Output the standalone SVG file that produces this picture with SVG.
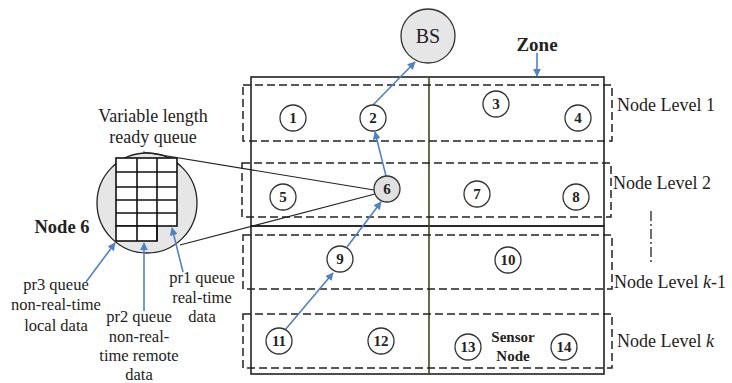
<svg xmlns="http://www.w3.org/2000/svg" width="732" height="383" viewBox="0 0 732 383">
<defs>
<marker id="ah" viewBox="0 0 10 10" refX="9" refY="5" markerWidth="8" markerHeight="8" markerUnits="userSpaceOnUse" orient="auto"><path d="M0,0 L10,5 L0,10 z" fill="#4f81c7"/></marker>
<style>
text{font-family:"Liberation Serif","Times New Roman",serif;fill:#222}
.nd circle{fill:#fff;stroke:#333;stroke-width:1.3}
.nd text{font-size:15px;font-weight:bold;text-anchor:middle}
.lvl{fill:none;stroke:#222;stroke-width:1.5;stroke-dasharray:8 4}
.frame{fill:none;stroke:#222;stroke-width:1.6}
.blue{stroke:#4f81c7;stroke-width:1.6;fill:none;marker-end:url(#ah)}
.lbl{font-size:16.5px;text-anchor:middle}
.lev{font-size:18px}
.thin{stroke:#222;stroke-width:1.2;fill:none}
</style>
</defs>
<rect width="732" height="383" fill="#fff"/>
<g id="frames">
<rect class="frame" x="251" y="77" width="353" height="149"/>
<rect class="frame" x="251" y="226" width="353" height="148"/>
<line x1="429" y1="77" x2="429" y2="374" stroke="#444422" stroke-width="1.6"/>
</g>
<g id="levels">
<rect class="lvl" x="243" y="85" width="369" height="56"/>
<rect class="lvl" x="242" y="163" width="369" height="54"/>
<rect class="lvl" x="243" y="235" width="369" height="54"/>
<rect class="lvl" x="243" y="314" width="369" height="54"/>
<text class="lev" x="617" y="111">Node Level 1</text>
<text class="lev" x="613" y="189">Node Level 2</text>
<text class="lev" x="614" y="288">Node Level <tspan font-style="italic">k</tspan>-1</text>
<text class="lev" x="617" y="347">Node Level <tspan font-style="italic">k</tspan></text>
<line x1="651" y1="211" x2="651" y2="265" stroke="#222" stroke-width="1.3" stroke-dasharray="10 3 2 3"/>
</g>
<g id="magnifier">
<circle cx="147" cy="203" r="50" fill="#e6e6e6" stroke="#222" stroke-width="1.3"/>
<g stroke="#111" stroke-width="1.6" fill="#fff">
<rect x="116" y="158" width="61" height="68"/>
<rect x="116" y="226" width="41" height="15"/>
</g>
<g stroke="#111" stroke-width="1.6">
<line x1="137" y1="158" x2="137" y2="241"/>
<line x1="157" y1="158" x2="157" y2="241"/>
<line x1="116" y1="172" x2="177" y2="172"/>
<line x1="116" y1="187" x2="177" y2="187"/>
<line x1="116" y1="200" x2="177" y2="200"/>
<line x1="116" y1="213" x2="177" y2="213"/>
</g>
<text x="153" y="122" font-size="18" text-anchor="middle">Variable length</text>
<text x="153" y="143" font-size="18" text-anchor="middle">ready queue</text>
<text x="62" y="233" font-size="18.5" font-weight="bold" text-anchor="middle">Node 6</text>
</g>
<g id="labels">
<text class="lbl" x="56" y="290">pr3 queue</text>
<text class="lbl" x="56" y="310">non-real-time</text>
<text class="lbl" x="56" y="331">local data</text>
<text class="lbl" x="139" y="322">pr2 queue</text>
<text class="lbl" x="139" y="342">non-real-</text>
<text class="lbl" x="139" y="361">time remote</text>
<text class="lbl" x="139" y="380">data</text>
<text class="lbl" x="202" y="283">pr1 queue</text>
<text class="lbl" x="202" y="303">real-time</text>
<text class="lbl" x="202" y="322">data</text>
<text x="537" y="51" font-size="19" font-weight="bold" text-anchor="middle">Zone</text>
</g>
<g id="connectors">
<line class="thin" x1="143" y1="152" x2="374" y2="190"/>
<line class="thin" x1="180" y1="245" x2="375" y2="194"/>
<line class="blue" x1="86" y1="282" x2="115" y2="243"/>
<line class="blue" x1="144" y1="311" x2="144" y2="243"/>
<line class="blue" x1="183" y1="272" x2="172" y2="228"/>
<line class="blue" x1="537" y1="53" x2="537" y2="76"/>
<line class="blue" x1="373" y1="105" x2="415" y2="62"/>
<line class="blue" x1="386" y1="176" x2="375" y2="132"/>
<line class="blue" x1="285" y1="330" x2="333" y2="273"/>
<line class="blue" x1="347" y1="247" x2="381" y2="202"/>
</g>
<g id="BS" class="nd"><circle cx="428" cy="36" r="27" style="fill:#e6e6e6"/><text x="428" y="43" style="font-size:20px;font-weight:normal">BS</text></g>
<g id="n1" class="nd"><circle cx="293" cy="118" r="13"/><text x="293" y="123">1</text></g>
<g id="n2" class="nd"><circle cx="373" cy="118" r="13"/><text x="373" y="123">2</text></g>
<g id="n3" class="nd"><circle cx="496" cy="104" r="13"/><text x="496" y="109">3</text></g>
<g id="n4" class="nd"><circle cx="578" cy="118" r="13"/><text x="578" y="123">4</text></g>
<g id="n5" class="nd"><circle cx="283" cy="197" r="13"/><text x="283" y="202">5</text></g>
<g id="n6" class="nd"><circle cx="387" cy="189" r="13" style="fill:#e0e0e0"/><text x="387" y="194">6</text></g>
<g id="n7" class="nd"><circle cx="477" cy="194" r="13"/><text x="477" y="199">7</text></g>
<g id="n8" class="nd"><circle cx="576" cy="197" r="13"/><text x="576" y="202">8</text></g>
<g id="n9" class="nd"><circle cx="340" cy="259" r="13"/><text x="340" y="264">9</text></g>
<g id="n10" class="nd"><circle cx="508" cy="260" r="13"/><text x="508" y="265">10</text></g>
<g id="n11" class="nd"><circle cx="279" cy="341" r="13"/><text x="279" y="346">11</text></g>
<g id="n12" class="nd"><circle cx="381" cy="341" r="13"/><text x="381" y="346">12</text></g>
<g id="n13" class="nd"><circle cx="468" cy="347" r="13"/><text x="468" y="352">13</text></g>
<g id="n14" class="nd"><circle cx="564" cy="347" r="13"/><text x="564" y="352">14</text></g>
<g id="sensor"><text x="513" y="342" font-size="15" font-weight="bold" text-anchor="middle">Sensor</text><text x="513" y="361" font-size="15" font-weight="bold" text-anchor="middle">Node</text></g>
</svg>
